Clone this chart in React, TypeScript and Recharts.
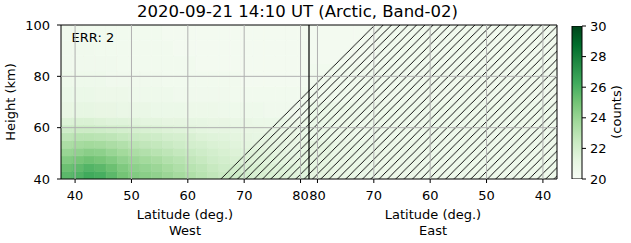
import React from 'react';
import { ComposedChart, XAxis, YAxis, ReferenceArea, ReferenceLine, Area, Bar } from 'recharts';

// ---------- data ----------
const WEST_MIN = 37.5;
const WEST_MAX = 81.5;
const EAST_MAX = 81.5;
const EAST_MIN = 37.5;

const westTicks = [40, 50, 60, 70, 80];
const eastTicks = [80, 70, 60, 50, 40];
const heightTicks = [40, 60, 80, 100];
const colorbarTicks = [20, 22, 24, 26, 28, 30];
const colorRange = [20, 30];

const westLatEdges = [37.5, 39.5, 41.5, 43.5, 45.5, 47.5, 49.5, 51.5, 53.5, 55.5, 57.5, 59.5, 61.5, 63.5, 65.5, 67.5, 69.5, 71.5, 73.5, 75.5, 77.5, 79.5, 81.5];
const westHeightEdges = [40, 43, 46, 49, 52, 55, 58, 61, 64, 70, 76, 82, 88, 94, 100];

const westH40 = [25.6, 25.9, 26.3, 26.1, 25.6, 25.0, 24.6, 24.4, 24.2, 23.9, 23.6, 23.3, 23.0, 22.7, 22.4, 22.2, 22.0, 21.8, 21.7, 21.6, 21.5, 21.4];
const westH43 = [25.2, 25.5, 25.8, 25.6, 25.2, 24.7, 24.3, 24.1, 23.9, 23.6, 23.3, 23.0, 22.8, 22.5, 22.2, 22.0, 21.8, 21.7, 21.6, 21.5, 21.4, 21.3];
const westH46 = [24.6, 24.9, 25.1, 24.9, 24.6, 24.2, 23.9, 23.7, 23.5, 23.2, 23.0, 22.7, 22.5, 22.2, 22.0, 21.8, 21.6, 21.5, 21.4, 21.3, 21.2, 21.2];
const westH49 = [24.0, 24.2, 24.4, 24.3, 24.0, 23.7, 23.4, 23.2, 23.0, 22.8, 22.6, 22.4, 22.2, 22.0, 21.8, 21.6, 21.5, 21.4, 21.3, 21.2, 21.1, 21.1];
const westH52 = [23.4, 23.6, 23.7, 23.6, 23.4, 23.2, 22.9, 22.7, 22.6, 22.4, 22.2, 22.0, 21.9, 21.7, 21.6, 21.4, 21.3, 21.2, 21.2, 21.1, 21.0, 21.0];
const westH55 = [22.8, 23.0, 23.0, 22.9, 22.8, 22.6, 22.4, 22.3, 22.2, 22.0, 21.9, 21.8, 21.6, 21.5, 21.4, 21.3, 21.2, 21.1, 21.1, 21.0, 21.0, 20.9];
const westH58 = [22.2, 22.3, 22.3, 22.2, 22.1, 22.0, 21.9, 21.8, 21.7, 21.6, 21.5, 21.4, 21.3, 21.2, 21.2, 21.1, 21.0, 21.0, 20.9, 20.9, 20.9, 20.8];
const westH61 = [21.6, 21.7, 21.7, 21.6, 21.5, 21.5, 21.4, 21.3, 21.3, 21.2, 21.2, 21.1, 21.1, 21.0, 21.0, 20.9, 20.9, 20.8, 20.8, 20.8, 20.7, 20.7];
const westH64 = [21.0, 21.1, 21.1, 21.0, 21.0, 20.9, 20.9, 20.9, 20.8, 20.8, 20.8, 20.7, 20.7, 20.7, 20.6, 20.6, 20.6, 20.6, 20.5, 20.5, 20.5, 20.5];
const westH70 = [20.8, 20.8, 20.8, 20.7, 20.7, 20.7, 20.6, 20.6, 20.6, 20.6, 20.5, 20.5, 20.5, 20.5, 20.5, 20.4, 20.4, 20.4, 20.4, 20.4, 20.4, 20.4];
const westH76 = [20.6, 20.6, 20.6, 20.6, 20.5, 20.5, 20.5, 20.5, 20.5, 20.4, 20.4, 20.4, 20.4, 20.4, 20.4, 20.4, 20.3, 20.3, 20.3, 20.3, 20.3, 20.3];
const westH82 = [20.5, 20.5, 20.5, 20.5, 20.5, 20.4, 20.4, 20.4, 20.4, 20.4, 20.4, 20.4, 20.3, 20.3, 20.3, 20.3, 20.3, 20.3, 20.3, 20.3, 20.3, 20.3];
const westH88 = [20.5, 20.5, 20.5, 20.4, 20.4, 20.4, 20.4, 20.4, 20.4, 20.4, 20.3, 20.3, 20.3, 20.3, 20.3, 20.3, 20.3, 20.3, 20.3, 20.3, 20.3, 20.3];
const westH94 = [20.5, 20.5, 20.4, 20.4, 20.4, 20.4, 20.4, 20.4, 20.4, 20.3, 20.3, 20.3, 20.3, 20.3, 20.3, 20.3, 20.3, 20.3, 20.3, 20.3, 20.3, 20.3];
const westRows = [westH40, westH43, westH46, westH49, westH52, westH55, westH58, westH61, westH64, westH70, westH76, westH82, westH88, westH94];

const eastLatEdges = [81.5, 77.5, 73.5, 69.5, 65.5, 61.5, 57.5, 53.5, 49.5, 45.5, 41.5, 37.5];
const eastHeightEdges = [40, 55, 70, 85, 100];
const eastH40 = [21.2, 20.9, 20.8, 20.7, 20.7, 20.6, 20.6, 20.6, 20.6, 20.6, 20.6];
const eastH55 = [20.8, 20.7, 20.6, 20.6, 20.6, 20.6, 20.6, 20.6, 20.6, 20.6, 20.6];
const eastH70 = [20.4, 20.4, 20.5, 20.5, 20.5, 20.5, 20.5, 20.5, 20.5, 20.5, 20.5];
const eastH85 = [20.3, 20.3, 20.3, 20.4, 20.4, 20.4, 20.4, 20.4, 20.4, 20.4, 20.4];
const eastRows = [eastH40, eastH55, eastH70, eastH85];

// hatched (masked) region boundary: side, latitude, height
const hatchSides = ['W', 'E', 'E'];
const hatchLats = [65.7, 70.3, 37.5];
const hatchHeights = [40, 100, 100];

const TITLE = '2020-09-21 14:10 UT (Arctic, Band-02)';
const ERR_TEXT = 'ERR: 2';

// ---------- helpers ----------
const SPAN = WEST_MAX - WEST_MIN; // 44
const westPos = (lat: number) => lat - WEST_MIN;
const eastPos = (lat: number) => SPAN + (EAST_MAX - lat);
const TOTAL = SPAN + (EAST_MAX - EAST_MIN);

const GREENS = ['#f7fcf5', '#e5f5e0', '#c7e9c0', '#a1d99b', '#74c476', '#41ab5d', '#238b45', '#006d2c', '#00441b'];
const hex = (h: string) => [1, 3, 5].map((i) => parseInt(h.slice(i, i + 2), 16));
function greens(v: number) {
  const t = Math.max(0, Math.min(1, (v - colorRange[0]) / (colorRange[1] - colorRange[0]))) * (GREENS.length - 1);
  const i = Math.min(GREENS.length - 2, Math.floor(t));
  const f = t - i;
  const a = hex(GREENS[i]);
  const b = hex(GREENS[i + 1]);
  const c = a.map((av, k) => Math.round(av + (b[k] - av) * f));
  return `rgb(${c[0]},${c[1]},${c[2]})`;
}

type Cell = { x1: number; x2: number; y1: number; y2: number; v: number };
const cells: Cell[] = [];
westRows.forEach((row, r) =>
  row.forEach((v, c) =>
    cells.push({ x1: westPos(westLatEdges[c]), x2: westPos(westLatEdges[c + 1]), y1: westHeightEdges[r], y2: westHeightEdges[r + 1], v })
  )
);
eastRows.forEach((row, r) =>
  row.forEach((v, c) =>
    cells.push({ x1: eastPos(eastLatEdges[c]), x2: eastPos(eastLatEdges[c + 1]), y1: eastHeightEdges[r], y2: eastHeightEdges[r + 1], v })
  )
);

const hatchData = hatchSides.map((s, i) => ({
  x: s === 'W' ? westPos(hatchLats[i]) : eastPos(hatchLats[i]),
  h: hatchHeights[i],
}));

const colorbarData = [{ name: 'cb', range: colorRange }];

const xTicks = [...westTicks.map(westPos), ...eastTicks.map(eastPos)];
const fmtX = (p: number) => String(Math.round(p < SPAN ? p + WEST_MIN : EAST_MAX - (p - SPAN)));

const FONT = 'DejaVu Sans, sans-serif';
const GRID = '#b0b0b0';

const XLabels = (props: any) => {
  const vb = props.viewBox || {};
  const x = vb.x ?? 0;
  const w = vb.width ?? 0;
  const y = vb.y ?? 0;
  const cW = x + w * 0.25;
  const cE = x + w * 0.75;
  const st = { fontFamily: FONT, fontSize: 13, fill: '#000' } as any;
  return (
    <g>
      <text x={cW} y={y + 40} textAnchor="middle" style={st}>Latitude (deg.)</text>
      <text x={cW} y={y + 56} textAnchor="middle" style={st}>West</text>
      <text x={cE} y={y + 40} textAnchor="middle" style={st}>Latitude (deg.)</text>
      <text x={cE} y={y + 56} textAnchor="middle" style={st}>East</text>
    </g>
  );
};

const ErrLabel = (props: any) => {
  const vb = props.viewBox || {};
  const x = vb.x ?? 0;
  const y = vb.y ?? 0;
  return (
    <text x={x + 10.5} y={y + 17} style={{ fontFamily: FONT, fontSize: 13, fill: '#000' }}>
      {ERR_TEXT}
    </text>
  );
};

export default function App() {
  const tickStyle = { fill: '#000', fontSize: 13, fontFamily: FONT };
  return (
    <div style={{ position: 'absolute', left: 0, top: 0, width: 631, height: 243, background: '#fff', fontFamily: FONT }}>
      <div style={{ position: 'absolute', left: 0, top: 0 }}>
        <ComposedChart width={631} height={243} data={hatchData} margin={{ top: 25, right: 74, bottom: 0, left: 11 }}>
          <defs>
            <pattern id="hatch" patternUnits="userSpaceOnUse" width="8.33" height="8.33">
              <path
                d="M-1,1 l2,-2 M0,8.33 l8.33,-8.33 M7.33,9.33 l2,-2"
                stroke="#000"
                strokeWidth="1"
                shapeRendering="crispEdges"
              />
            </pattern>
          </defs>
          <XAxis
            dataKey="x"
            type="number"
            domain={[0, TOTAL]}
            allowDataOverflow
            ticks={xTicks}
            interval={0}
            tickFormatter={fmtX}
            tick={tickStyle}
            tickSize={4}
            tickMargin={8}
            tickLine={{ stroke: '#000' }}
            axisLine={false}
            height={64}
            label={{ content: XLabels }}
          />
          <YAxis
            type="number"
            domain={[40, 100]}
            allowDataOverflow
            ticks={heightTicks}
            interval={0}
            tick={tickStyle}
            tickSize={4}
            tickMargin={7}
            tickLine={{ stroke: '#000' }}
            axisLine={false}
            width={50}
          />
          {cells.map((c, i) => (
            <ReferenceArea
              key={i}
              x1={c.x1}
              x2={c.x2}
              y1={c.y1}
              y2={c.y2}
              fill={greens(c.v)}
              fillOpacity={1}
              stroke={greens(c.v)}
              strokeWidth={0.6}
              ifOverflow="hidden"
            />
          ))}
          <Area
            dataKey="h"
            type="linear"
            baseValue={40}
            fill="url(#hatch)"
            fillOpacity={1}
            stroke="none"
            isAnimationActive={false}
            dot={false}
            activeDot={false}
          />
          {xTicks.map((t) => (
            <ReferenceLine key={'gx' + t} x={t} stroke={GRID} strokeWidth={1} />
          ))}
          {heightTicks.slice(1, -1).map((t) => (
            <ReferenceLine key={'gy' + t} y={t} stroke={GRID} strokeWidth={1} />
          ))}
          <ReferenceLine x={SPAN} stroke="#000" strokeWidth={1.2} />
          <ReferenceArea
            x1={0}
            x2={TOTAL}
            y1={40}
            y2={100}
            fill="none"
            fillOpacity={0}
            stroke="#000"
            strokeWidth={1}
            label={{ content: ErrLabel }}
          />
          <text x={297.5} y={17} textAnchor="middle" style={{ fontFamily: FONT, fontSize: 16.5, fill: '#000' }}>{TITLE}</text>
          <text x={14.5} y={102} textAnchor="middle" transform="rotate(-90 14.5 102)" style={{ fontFamily: FONT, fontSize: 13, fill: '#000' }}>Height (km)</text>
        </ComposedChart>
      </div>
      <div style={{ position: 'absolute', left: 560, top: 0 }}>
        <ComposedChart
          width={71}
          height={243}
          data={colorbarData}
          margin={{ top: 26, right: 0, bottom: 64, left: 12 }}
          barCategoryGap={0}
        >
          <defs>
            <linearGradient id="greensBar" x1="0" y1="1" x2="0" y2="0">
              {GREENS.map((c, i) => (
                <stop key={i} offset={i / (GREENS.length - 1)} stopColor={c} />
              ))}
            </linearGradient>
          </defs>
          <XAxis dataKey="name" type="category" hide />
          <YAxis
            orientation="right"
            type="number"
            domain={colorRange}
            allowDataOverflow
            ticks={colorbarTicks}
            interval={0}
            tick={tickStyle}
            tickSize={4}
            tickMargin={4}
            tickLine={{ stroke: '#000' }}
            axisLine={false}
            width={49}
          />
          <Bar dataKey="range" fill="url(#greensBar)" stroke="#000" strokeWidth={1} isAnimationActive={false} />
          <text x={61} y={112} textAnchor="middle" transform="rotate(-90 61 112)" style={{ fontFamily: FONT, fontSize: 13, fill: '#000' }}>(counts)</text>
        </ComposedChart>
      </div>
    </div>
  );
}
